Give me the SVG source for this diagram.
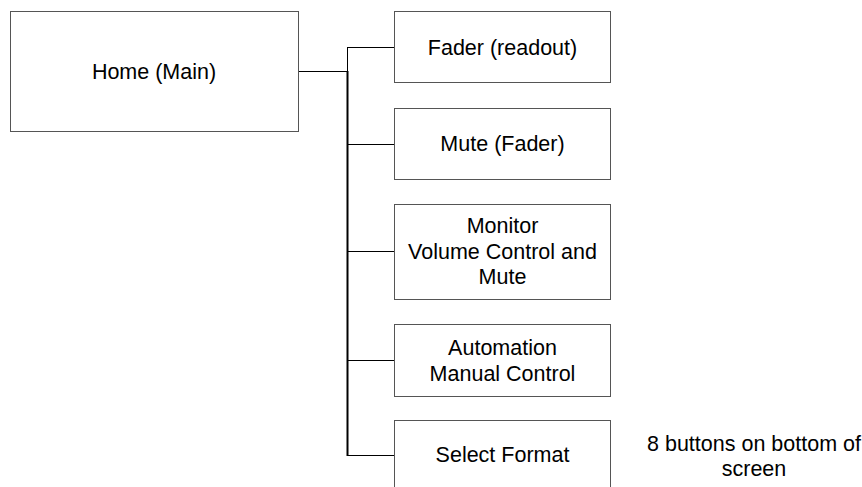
<svg xmlns="http://www.w3.org/2000/svg" width="862" height="487" viewBox="0 0 862 487">
<style>
.box{fill:#fff;stroke:#555;stroke-width:1}
.t{font-family:"Liberation Sans",Arial,sans-serif;font-size:21.5px;fill:#000;text-anchor:middle}
.c{fill:none;stroke:#000;stroke-width:1}
</style>
<rect width="862" height="487" fill="#fff"/>
<g id="connectors">
<path class="c" d="M298.5 71.5H348M348 47.5H394.5M348 144.5H394.5M348 251.5H394.5M348 360.5H394.5M348 455.5H394.5"/>
<path class="c" d="M347.5 47V456"/>
<path d="M347.5 71V456" fill="none" stroke="#000" stroke-width="2"/>
</g>
<g id="home">
<rect class="box" x="10.5" y="11.5" width="288" height="120"/>
<text class="t" x="154" y="78.5">Home (Main)</text>
</g>
<g id="fader">
<rect class="box" x="394.5" y="11.5" width="216" height="71"/>
<text class="t" x="502.5" y="54.5">Fader (readout)</text>
</g>
<g id="mute">
<rect class="box" x="394.5" y="108.5" width="216" height="71"/>
<text class="t" x="502.5" y="151">Mute (Fader)</text>
</g>
<g id="monitor">
<rect class="box" x="394.5" y="204.5" width="216" height="95"/>
<text class="t" x="502.5" y="233">Monitor</text>
<text class="t" x="502.5" y="258.5">Volume Control and</text>
<text class="t" x="502.5" y="283.5">Mute</text>
</g>
<g id="automation">
<rect class="box" x="394.5" y="324.5" width="216" height="72"/>
<text class="t" x="502.5" y="355">Automation</text>
<text class="t" x="502.5" y="380.5">Manual Control</text>
</g>
<g id="select">
<rect class="box" x="394.5" y="420.5" width="216" height="72"/>
<text class="t" x="502.5" y="462">Select Format</text>
</g>
<g id="note">
<text class="t" x="754" y="451">8 buttons on bottom of</text>
<text class="t" x="754" y="475.5">screen</text>
</g>
</svg>
